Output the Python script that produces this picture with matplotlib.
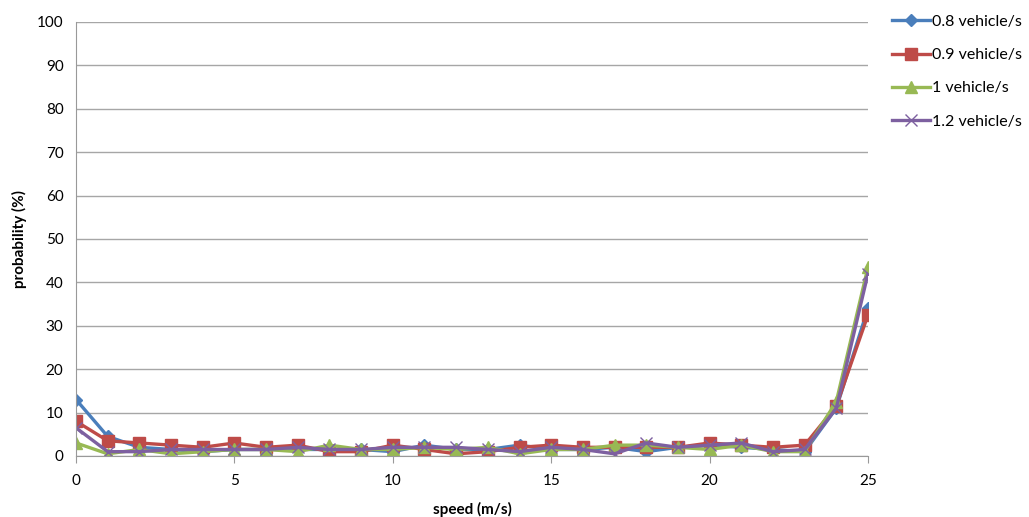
import matplotlib.pyplot as plt
import numpy as np

# speed values (m/s)
speed = np.arange(0, 26)

# probability (%) per flow rate
p08 = [13, 4.5, 2, 1.5, 1, 1.5, 1.5, 1.5, 1.5, 1.5, 1, 2.5, 1.5, 1.5, 2.5, 1.5,
       1.5, 2, 1, 2, 2.5, 2, 1.5, 1, 11, 34]
p09 = [8, 3.5, 3, 2.5, 2, 3, 2, 2.5, 1, 1, 2.5, 1.5, 0.5, 1, 2, 2.5,
       2, 2, 2, 2, 3, 2.5, 2, 2.5, 11.5, 32.5]
p10 = [3, 0.5, 1.5, 0.5, 1, 1.5, 1.5, 1, 2.5, 1.5, 1.5, 2, 1.5, 2, 0.5, 1.5,
       1.5, 2.5, 2.5, 2, 1.5, 2.5, 1, 1, 12.5, 43.5]
p12 = [6.5, 1, 1, 1.5, 1.5, 1.5, 1.5, 2, 1.5, 1.5, 2, 2, 2, 1.5, 1, 2,
       1.5, 0.5, 3, 2, 2.5, 3, 1, 1.5, 11, 42]
labels = ['0.8 vehicle/s', '0.9 vehicle/s', '1 vehicle/s', '1.2 vehicle/s']

plt.rcParams['font.family'] = ['Lato', 'DejaVu Sans']

fig = plt.figure(figsize=(10.29, 5.17), dpi=100)
ax = fig.add_axes([0.0739, 0.118, 0.7696, 0.8396])

ax.plot(speed, p08, color='#4A7EBB', marker='D', ms=6, lw=2.4, label=labels[0])
ax.plot(speed, p09, color='#BE4B48', marker='s', ms=8, lw=2.4, label=labels[1])
ax.plot(speed, p10, color='#98B954', marker='^', ms=8, lw=2.4, label=labels[2])
ax.plot(speed, p12, color='#7D60A0', marker='x', ms=8, mew=1, lw=2.4, label=labels[3])

ax.set_xlim(0, 25)
ax.set_ylim(0, 100)
ax.set_xticks(range(0, 26, 5))
ax.set_yticks(range(0, 101, 10))
ax.grid(axis='y', color='#a6a6a6', lw=1)
ax.set_axisbelow(True)
for s in ['top', 'right']:
    ax.spines[s].set_visible(False)
for s in ['left', 'bottom']:
    ax.spines[s].set_color('#999999')
ax.tick_params(axis='x', direction='out', length=5, color='#999999', labelsize=11, pad=8)
ax.tick_params(axis='y', length=0, labelsize=11, pad=9)
ax.set_xlabel('speed (m/s)', fontsize=11, fontweight='bold', labelpad=10)
ax.set_ylabel('probability (%)', fontsize=11, fontweight='bold', labelpad=7)

ax.legend(loc='upper left', bbox_to_anchor=(1.012, 1.05), frameon=False,
          fontsize=11.5, handlelength=2.4, labelspacing=1.2, handletextpad=0.1)

fig.savefig('out.png', dpi=100)
